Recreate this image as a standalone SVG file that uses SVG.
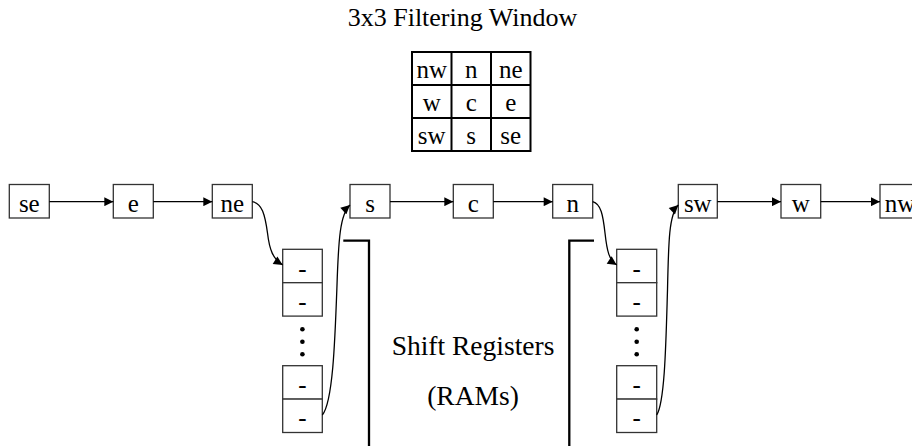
<svg xmlns="http://www.w3.org/2000/svg" width="912" height="446" viewBox="0 0 912 446">
<style>
text{font-family:"Liberation Serif","Times New Roman",serif;fill:#000}
.t{font-size:26px}
.c{font-size:25px;text-anchor:middle}
.big{font-size:27.5px;text-anchor:middle}
.box{fill:#fff;stroke:#333;stroke-width:1.3}
.grid{fill:none;stroke:#000;stroke-width:2}
.edge{fill:none;stroke:#000;stroke-width:1.3}
.brk{fill:none;stroke:#000;stroke-width:2.3}
</style>
<defs>
<marker id="ah" viewBox="0 0 10 10" refX="10" refY="5" markerWidth="10" markerHeight="9" markerUnits="userSpaceOnUse" orient="auto">
<path d="M0,0 L10,5 L0,10 z" fill="#000"/>
</marker>
</defs>
<rect width="912" height="446" fill="#fff"/>
<text class="t" x="462.5" y="26" text-anchor="middle">3x3 Filtering Window</text>
<g id="window">
<rect class="grid" x="412" y="52" width="118.5" height="99"/>
<line class="grid" x1="451.5" y1="52" x2="451.5" y2="151"/>
<line class="grid" x1="491" y1="52" x2="491" y2="151"/>
<line class="grid" x1="412" y1="85" x2="530.5" y2="85"/>
<line class="grid" x1="412" y1="118" x2="530.5" y2="118"/>
<text class="c" x="431.7" y="78">nw</text><text class="c" x="471.2" y="78">n</text><text class="c" x="510.7" y="78">ne</text>
<text class="c" x="431.7" y="111">w</text><text class="c" x="471.2" y="111">c</text><text class="c" x="510.7" y="111">e</text>
<text class="c" x="431.7" y="143.5">sw</text><text class="c" x="471.2" y="143.5">s</text><text class="c" x="510.7" y="143.5">se</text>
</g>
<g id="node-se"><rect class="box" x="9.3" y="184.5" width="40" height="33.5"/><text class="c" x="29.3" y="211.5">se</text></g>
<g id="node-e"><rect class="box" x="113.3" y="184.5" width="40" height="33.5"/><text class="c" x="133.3" y="211.5">e</text></g>
<g id="node-ne"><rect class="box" x="212.3" y="184.5" width="40" height="33.5"/><text class="c" x="232.3" y="211.5">ne</text></g>
<g id="node-s"><rect class="box" x="350" y="184.5" width="40" height="33.5"/><text class="c" x="370" y="211.5">s</text></g>
<g id="node-c"><rect class="box" x="453.3" y="184.5" width="40" height="33.5"/><text class="c" x="473.3" y="211.5">c</text></g>
<g id="node-n"><rect class="box" x="552.7" y="184.5" width="40" height="33.5"/><text class="c" x="572.7" y="211.5">n</text></g>
<g id="node-sw"><rect class="box" x="678.3" y="184.5" width="39" height="33.5"/><text class="c" x="697.8" y="211.5">sw</text></g>
<g id="node-w"><rect class="box" x="781" y="184.5" width="39.7" height="33.5"/><text class="c" x="800.8" y="211.5">w</text></g>
<g id="node-nw"><rect class="box" x="880" y="184.5" width="40" height="33.5"/><text class="c" x="900" y="211.5">nw</text></g>
<g id="ram-left">
<rect class="box" x="282.7" y="249.3" width="39.6" height="33.4"/><text class="c" x="302.5" y="276.5">-</text>
<rect class="box" x="282.7" y="282.7" width="39.6" height="33.4"/><text class="c" x="302.5" y="310">-</text>
<circle cx="302.4" cy="329.3" r="2.3"/><circle cx="302.4" cy="341.7" r="2.3"/><circle cx="302.4" cy="354.3" r="2.3"/>
<rect class="box" x="282.7" y="365.7" width="39.6" height="33.4"/><text class="c" x="302.5" y="393">-</text>
<rect class="box" x="282.7" y="399.1" width="39.6" height="33.4"/><text class="c" x="302.5" y="426.4">-</text>
</g>
<g id="ram-right">
<rect class="box" x="616.7" y="249.3" width="40" height="33.4"/><text class="c" x="636.7" y="276.5">-</text>
<rect class="box" x="616.7" y="282.7" width="40" height="33.4"/><text class="c" x="636.7" y="310">-</text>
<circle cx="636.7" cy="329.3" r="2.3"/><circle cx="636.7" cy="341.7" r="2.3"/><circle cx="636.7" cy="354.3" r="2.3"/>
<rect class="box" x="616.7" y="365.7" width="40" height="33.4"/><text class="c" x="636.7" y="393">-</text>
<rect class="box" x="616.7" y="399.1" width="40" height="33.4"/><text class="c" x="636.7" y="426.4">-</text>
</g>
<g id="label">
<text class="big" x="473" y="355">Shift Registers</text>
<text class="big" x="473" y="405">(RAMs)</text>
</g>
<g id="brackets">
<polyline class="brk" points="343.3,240.7 369,240.7 369,446"/>
<polyline class="brk" points="594,240.7 569.3,240.7 569.3,446"/>
</g>
<g id="connectors">
<line class="edge" x1="49.3" y1="201.7" x2="113.3" y2="201.7" marker-end="url(#ah)"/>
<line class="edge" x1="153.3" y1="201.7" x2="212.3" y2="201.7" marker-end="url(#ah)"/>
<path class="edge" d="M252.3,201.7 C262,203 265,215 267.5,233 C269.5,250 273,259 282.7,265" marker-end="url(#ah)"/>
<path class="edge" d="M322.3,415 C333,402 335,340 337,285 C338.5,240 340,214 350,205" marker-end="url(#ah)"/>
<line class="edge" x1="390" y1="201.7" x2="453.3" y2="201.7" marker-end="url(#ah)"/>
<line class="edge" x1="493.3" y1="201.7" x2="552.7" y2="201.7" marker-end="url(#ah)"/>
<path class="edge" d="M592.7,201.7 C601,204 603,215 605,233 C607,251 609,260 616.7,265" marker-end="url(#ah)"/>
<path class="edge" d="M656.7,415 C665,402 666,340 667.5,290 C668.5,242 669,214 678.3,205" marker-end="url(#ah)"/>
<line class="edge" x1="717.3" y1="201.7" x2="781" y2="201.7" marker-end="url(#ah)"/>
<line class="edge" x1="820.7" y1="201.7" x2="880" y2="201.7" marker-end="url(#ah)"/>
</g>
</svg>
